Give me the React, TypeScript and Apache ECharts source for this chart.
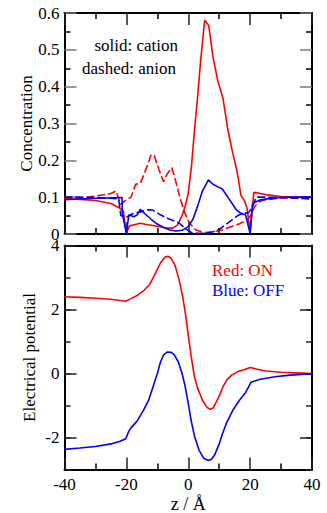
import React, { useEffect, useRef } from "react";
import * as echarts from "echarts";

// ---- Concentration (top panel) ----
const zCationOn = [-40, -35, -30, -25, -22.5, -21, -20, -19, -17.5, -15.5, -13, -10, -7, -5, -3.5, -2, -1, 0, 1, 2, 3, 4, 5.3, 6.6, 8, 9.6, 11.2, 12.8, 14.4, 15.5, 16.2, 17, 18.2, 19, 20, 21.2, 25, 30, 35, 40];
const cationOn = [0.096, 0.094, 0.091, 0.083, 0.072, 0.062, 0.002, 0.022, 0.025, 0.029, 0.025, 0.021, 0.016, 0.016, 0.024, 0.05, 0.075, 0.11, 0.18, 0.28, 0.37, 0.47, 0.58, 0.567, 0.48, 0.414, 0.37, 0.283, 0.219, 0.18, 0.15, 0.105, 0.09, 0.07, 0.005, 0.113, 0.107, 0.102, 0.1, 0.099];

const zAnionOn = [-40, -35, -30, -25, -23.3, -21.9, -20.5, -18.5, -17, -15.5, -13.5, -12, -11, -9.5, -8, -6.8, -5.3, -4.2, -2.7, -1.2, 0.5, 2.5, 5, 8, 11, 14.4, 16.6, 18.5, 20, 21.5, 23, 25, 30, 35, 40];
const anionOn = [0.094, 0.097, 0.103, 0.11, 0.117, 0.08, 0.09, 0.1, 0.135, 0.137, 0.18, 0.215, 0.213, 0.175, 0.142, 0.163, 0.18, 0.148, 0.1, 0.058, 0.028, 0.011, 0.004, 0.005, 0.011, 0.022, 0.028, 0.036, 0.048, 0.075, 0.088, 0.093, 0.098, 0.099, 0.1];

const zCationOff = [-40, -35, -30, -25, -21.4, -21.3, -20, -19.2, -17.6, -16.5, -15.5, -14, -12, -10, -8, -6, -4, -2, 0, 1.5, 3, 4.5, 6.5, 8, 9.6, 11, 12.8, 14.4, 15.5, 17, 18.5, 20, 20.8, 23, 26, 30, 35, 40];
const cationOff = [0.093, 0.095, 0.097, 0.098, 0.099, 0.055, 0.002, 0.052, 0.047, 0.052, 0.067, 0.055, 0.04, 0.027, 0.018, 0.011, 0.008, 0.01, 0.02, 0.04, 0.075, 0.115, 0.147, 0.135, 0.128, 0.122, 0.1, 0.08, 0.066, 0.056, 0.052, 0.002, 0.083, 0.092, 0.096, 0.099, 0.1, 0.1];

const zAnionOff = [-40, -35, -30, -25, -22.5, -21.8, -20, -18, -15.5, -13, -11.5, -9, -6, -3, -1, 1, 3, 5, 8, 10, 12.3, 14.4, 16, 17.6, 19.5, 20.5, 22, 25, 30, 35, 40];
const anionOff = [0.1, 0.1, 0.099, 0.097, 0.095, 0.05, 0.045, 0.055, 0.06, 0.066, 0.065, 0.052, 0.04, 0.03, 0.015, 0.004, 0.002, 0.002, 0.006, 0.012, 0.027, 0.04, 0.05, 0.056, 0.058, 0.07, 0.1, 0.1, 0.099, 0.097, 0.095];

// ---- Electrical potential (bottom panel) ----
const zPotOn = [-40, -35, -30, -25, -20.2, -18.5, -16.5, -14.5, -12.5, -10.5, -9, -7.5, -6.5, -5.5, -4.3, -3, -1.8, -0.8, 0, 1, 2, 3, 4.5, 6, 7, 8, 9, 10, 11.2, 12.5, 14, 16, 18, 20, 22, 25, 30, 35, 40];
const potOn = [2.4, 2.38, 2.35, 2.32, 2.26, 2.34, 2.44, 2.58, 2.78, 3.15, 3.45, 3.64, 3.66, 3.6, 3.38, 2.95, 2.4, 1.8, 1.2, 0.5, -0.1, -0.45, -0.82, -1.05, -1.12, -1.08, -0.9, -0.7, -0.42, -0.2, -0.05, 0.06, 0.12, 0.19, 0.14, 0.08, 0.04, 0.02, 0.0];

const zPotOff = [-40, -35, -30, -25, -22, -20.2, -19.2, -18.5, -16.5, -14.5, -12.8, -11.5, -10, -9, -8, -6.8, -5.5, -4.5, -3.2, -2, -1, 0, 1, 2, 3.5, 5, 6.5, 7.5, 8.5, 10, 11, 12.3, 14.4, 16.6, 18.5, 19.5, 20.3, 23, 28, 33, 40];
const potOff = [-2.37, -2.33, -2.28, -2.2, -2.12, -2.04, -1.8, -1.7, -1.48, -1.15, -0.83, -0.45, 0.0, 0.35, 0.58, 0.67, 0.66, 0.58, 0.36, 0.0, -0.4, -0.94, -1.5, -1.95, -2.4, -2.65, -2.72, -2.68, -2.55, -2.2, -1.9, -1.56, -1.15, -0.83, -0.6, -0.42, -0.27, -0.19, -0.1, -0.05, -0.01];

const potLabelTicks = [-2, 0, 2, 4];

const FONT = "Liberation Serif";

const zip = (xs: number[], ys: number[]) => xs.map((x, i) => [x, ys[i]]);

function xAxisDef(grid: number, position: "top" | "bottom", labels: boolean) {
  return {
    type: "value",
    gridIndex: grid,
    position,
    min: -40,
    max: 40,
    interval: 20,
    axisLine: { show: true, onZero: false, lineStyle: { color: "#000", width: 2 } },
    axisTick: { show: true, inside: true, length: 12, lineStyle: { color: "#222", width: 1.5 } },
    minorTick: { show: true, splitNumber: 2, length: 6, lineStyle: { color: "#000", width: 1.5 } },
    splitLine: { show: false },
    minorSplitLine: { show: false },
    axisLabel: {
      show: labels,
      margin: 6,
      fontSize: 17,
      color: "#000",
      fontFamily: FONT,
    },
    name: labels ? "z / Å" : "",
    nameLocation: "middle",
    nameGap: 25,
    nameMoveOverlap: false,
    nameTextStyle: { fontSize: 18, color: "#000", fontFamily: FONT },
  };
}

export default function App() {
  const ref = useRef<HTMLDivElement>(null);

  useEffect(() => {
    if (!ref.current) return;
    const chart = echarts.init(ref.current, null, { renderer: "svg" });

    const lineBase = { type: "line", showSymbol: false, symbol: "none", smooth: false, clip: true, animation: false };

    const option: any = {
      animation: false,
      backgroundColor: "#fff",
      textStyle: { fontFamily: FONT },
      grid: [
        { left: 64.5, top: 13, width: 247.5, height: 221, outerBoundsMode: "none", containLabel: false },
        { left: 64.5, top: 245.5, width: 247.5, height: 224, outerBoundsMode: "none", containLabel: false },
      ],
      xAxis: [
        xAxisDef(0, "bottom", false),
        xAxisDef(0, "top", false),
        xAxisDef(1, "bottom", true),
        xAxisDef(1, "top", false),
      ],
      yAxis: [
        {
          type: "value",
          gridIndex: 0,
          position: "left",
          min: 0,
          max: 0.6,
          interval: 0.1,
          axisLine: { show: true, onZero: false, lineStyle: { color: "#000", width: 2 } },
          axisTick: { show: true, inside: true, length: 12, lineStyle: { color: "#777", width: 1.5 } },
          minorTick: { show: true, splitNumber: 2, length: 6, lineStyle: { color: "#000", width: 1.5 } },
          splitLine: { show: false },
          axisLabel: { margin: 5, fontSize: 17, color: "#000", fontFamily: FONT },
          name: "Concentration",
          nameLocation: "middle",
          nameGap: 30,
          nameMoveOverlap: false,
          nameTextStyle: { fontSize: 17, color: "#000", fontFamily: FONT },
        },
        {
          type: "value",
          gridIndex: 0,
          position: "right",
          min: 0,
          max: 0.6,
          interval: 0.1,
          axisLine: { show: true, onZero: false, lineStyle: { color: "#000", width: 2 } },
          axisTick: { show: true, inside: true, length: 12, lineStyle: { color: "#777", width: 1.5 } },
          minorTick: { show: true, splitNumber: 2, length: 6, lineStyle: { color: "#000", width: 1.5 } },
          splitLine: { show: false },
          axisLabel: { show: false },
        },
        {
          type: "value",
          gridIndex: 1,
          position: "left",
          min: -3,
          max: 4,
          interval: 1,
          axisLine: { show: true, onZero: false, lineStyle: { color: "#000", width: 2 } },
          axisTick: { show: true, inside: true, length: 6, lineStyle: { color: "#222", width: 1.5 } },
          splitLine: { show: false },
          axisLabel: {
            margin: 5,
            fontSize: 17,
            color: "#000",
            fontFamily: FONT,
            formatter: (v: number) => (potLabelTicks.indexOf(Math.round(v)) >= 0 ? String(Math.round(v)) : ""),
          },
          name: "Electrical potential",
          nameLocation: "middle",
          nameGap: 27,
          nameMoveOverlap: false,
          nameTextStyle: { fontSize: 17, color: "#000", fontFamily: FONT },
        },
        {
          type: "value",
          gridIndex: 1,
          position: "right",
          min: -3,
          max: 4,
          interval: 1,
          axisLine: { show: true, onZero: false, lineStyle: { color: "#000", width: 2 } },
          axisTick: { show: true, inside: true, length: 6, lineStyle: { color: "#222", width: 1.5 } },
          splitLine: { show: false },
          axisLabel: { show: false },
        },
        {
          type: "value",
          gridIndex: 1,
          position: "left",
          min: -3,
          max: 4,
          axisLine: { show: false, onZero: false },
          axisTick: { show: true, inside: true, length: 12, customValues: potLabelTicks, lineStyle: { color: "#222", width: 1.5 } },
          splitLine: { show: false },
          axisLabel: { show: false },
        },
        {
          type: "value",
          gridIndex: 1,
          position: "right",
          min: -3,
          max: 4,
          axisLine: { show: false, onZero: false },
          axisTick: { show: true, inside: true, length: 12, customValues: potLabelTicks, lineStyle: { color: "#222", width: 1.5 } },
          splitLine: { show: false },
          axisLabel: { show: false },
        },
      ],
      series: [
        { ...lineBase, name: "cation ON", xAxisIndex: 0, yAxisIndex: 0, data: zip(zCationOn, cationOn), lineStyle: { color: "#ff0000", width: 1.6 } },
        { ...lineBase, name: "anion ON", xAxisIndex: 0, yAxisIndex: 0, data: zip(zAnionOn, anionOn), lineStyle: { color: "#ff0000", width: 1.6, type: [8, 3] } },
        { ...lineBase, name: "cation OFF", xAxisIndex: 0, yAxisIndex: 0, data: zip(zCationOff, cationOff), lineStyle: { color: "#0000ff", width: 1.6 } },
        { ...lineBase, name: "anion OFF", xAxisIndex: 0, yAxisIndex: 0, data: zip(zAnionOff, anionOff), lineStyle: { color: "#0000ff", width: 1.6, type: [8, 3] } },
        { ...lineBase, name: "potential ON", xAxisIndex: 2, yAxisIndex: 2, data: zip(zPotOn, potOn), lineStyle: { color: "#ff0000", width: 1.6 } },
        { ...lineBase, name: "potential OFF", xAxisIndex: 2, yAxisIndex: 2, data: zip(zPotOff, potOff), lineStyle: { color: "#0000ff", width: 1.6 } },
      ],
      graphic: [
        { type: "text", right: 327 - 178, top: 37, style: { text: "solid: cation", fontSize: 17, fontFamily: FONT, fill: "#000" } },
        { type: "text", right: 327 - 176, top: 60, style: { text: "dashed: anion", fontSize: 17, fontFamily: FONT, fill: "#000" } },
        { type: "text", left: 212, top: 262, style: { text: "Red: ON", fontSize: 17, fontFamily: FONT, fill: "#ff0000" } },
        { type: "text", left: 212, top: 282, style: { text: "Blue: OFF", fontSize: 17, fontFamily: FONT, fill: "#0000ff" } },
      ],
    };

    chart.setOption(option);
    return () => chart.dispose();
  }, []);

  return (
    <div
      ref={ref}
      style={{ position: "absolute", left: 0, top: 0, width: 327, height: 513, background: "#fff" }}
    />
  );
}
